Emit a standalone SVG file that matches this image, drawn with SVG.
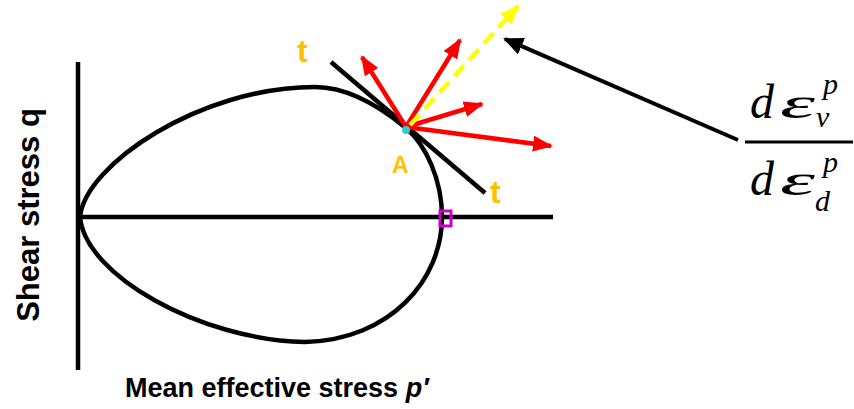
<svg xmlns="http://www.w3.org/2000/svg" width="854" height="409" viewBox="0 0 854 409">
<style>
.blk{stroke:#000;stroke-width:4.5;fill:none}
.red{stroke:#ff0000;stroke-width:4.5;fill:none}
.lbl{font-family:"Liberation Sans",Arial,sans-serif;font-weight:bold;fill:#ffc000}
.ax{font-family:"Liberation Sans",Arial,sans-serif;font-weight:bold;fill:#000}
.m{font-family:"Liberation Serif","Times New Roman",serif;font-style:italic;fill:#000}
</style>
<defs>
<marker id="ar" markerUnits="userSpaceOnUse" markerWidth="22" markerHeight="18" refX="18" refY="8" orient="auto"><path d="M0,0 L20,8 L0,16 Z" fill="#ff0000"/></marker>
<marker id="ay" markerUnits="userSpaceOnUse" markerWidth="22" markerHeight="18" refX="18" refY="8" orient="auto"><path d="M0,0 L20,8 L0,16 Z" fill="#ffff00"/></marker>
<marker id="ab" markerUnits="userSpaceOnUse" markerWidth="24" markerHeight="20" refX="18" refY="9" orient="auto"><path d="M0,0 L20,9 L0,18 Z" fill="#000"/></marker>
</defs>
<g id="axes">
<line class="blk" x1="78" y1="62" x2="78" y2="370" stroke-width="5"/>
<line class="blk" x1="78" y1="217" x2="553" y2="217" stroke-width="5"/>
</g>
<g id="yield-surface">
<path class="blk" d="M80,217 C85,165 200,87 315,87 C350,87 383,109 406,128 C426,145 442,180 442,217 C442,280 390,340 305,342 C200,340 85,275 80,217 Z"/>
<rect x="440" y="211" width="11" height="15" fill="none" stroke="#cc00cc" stroke-width="3"/>
</g>
<g id="tangent">
<line class="blk" x1="331" y1="62" x2="485" y2="193"/>
</g>
<g id="connectors">
<line class="red" x1="406" y1="127" x2="362" y2="57" marker-end="url(#ar)"/>
<line class="red" x1="406" y1="127" x2="460" y2="40" marker-end="url(#ar)"/>
<line class="red" x1="406" y1="127" x2="482" y2="104" marker-end="url(#ar)"/>
<line class="red" x1="406" y1="127" x2="551" y2="146" marker-end="url(#ar)"/>
<line x1="410" y1="125" x2="518" y2="6" stroke="#ffff00" stroke-width="4.5" stroke-dasharray="14,8" marker-end="url(#ay)"/>
<line x1="738" y1="140" x2="505" y2="39" stroke="#000" stroke-width="4" marker-end="url(#ab)"/>
</g>
<g id="point-A">
<circle cx="406" cy="130" r="4" fill="#33cccc"/>
<text class="lbl" x="392" y="173" font-size="23">A</text>
</g>
<g id="t-labels">
<text class="lbl" x="297" y="62" font-size="32">t</text>
<text class="lbl" x="490" y="203" font-size="32">t</text>
</g>
<g id="fraction">
<text class="m" x="750" y="118" font-size="48">d</text>
<text class="m" x="780" y="118" font-size="44" textLength="35" lengthAdjust="spacingAndGlyphs">ε</text>
<text class="m" x="823" y="94" font-size="30">p</text>
<text class="m" x="816" y="127" font-size="30">ν</text>
<line x1="745" y1="142" x2="853" y2="142" stroke="#000" stroke-width="3"/>
<text class="m" x="750" y="195" font-size="48">d</text>
<text class="m" x="780" y="195" font-size="44" textLength="35" lengthAdjust="spacingAndGlyphs">ε</text>
<text class="m" x="823" y="172" font-size="30">p</text>
<text class="m" x="815" y="211" font-size="30">d</text>
</g>
<g id="labels">
<text class="ax" font-size="31" transform="translate(39,215) rotate(-90)" text-anchor="middle">Shear stress q</text>
<text class="ax" font-size="27" x="125" y="397">Mean effective stress <tspan font-style="italic">p′</tspan></text>
</g>
</svg>
